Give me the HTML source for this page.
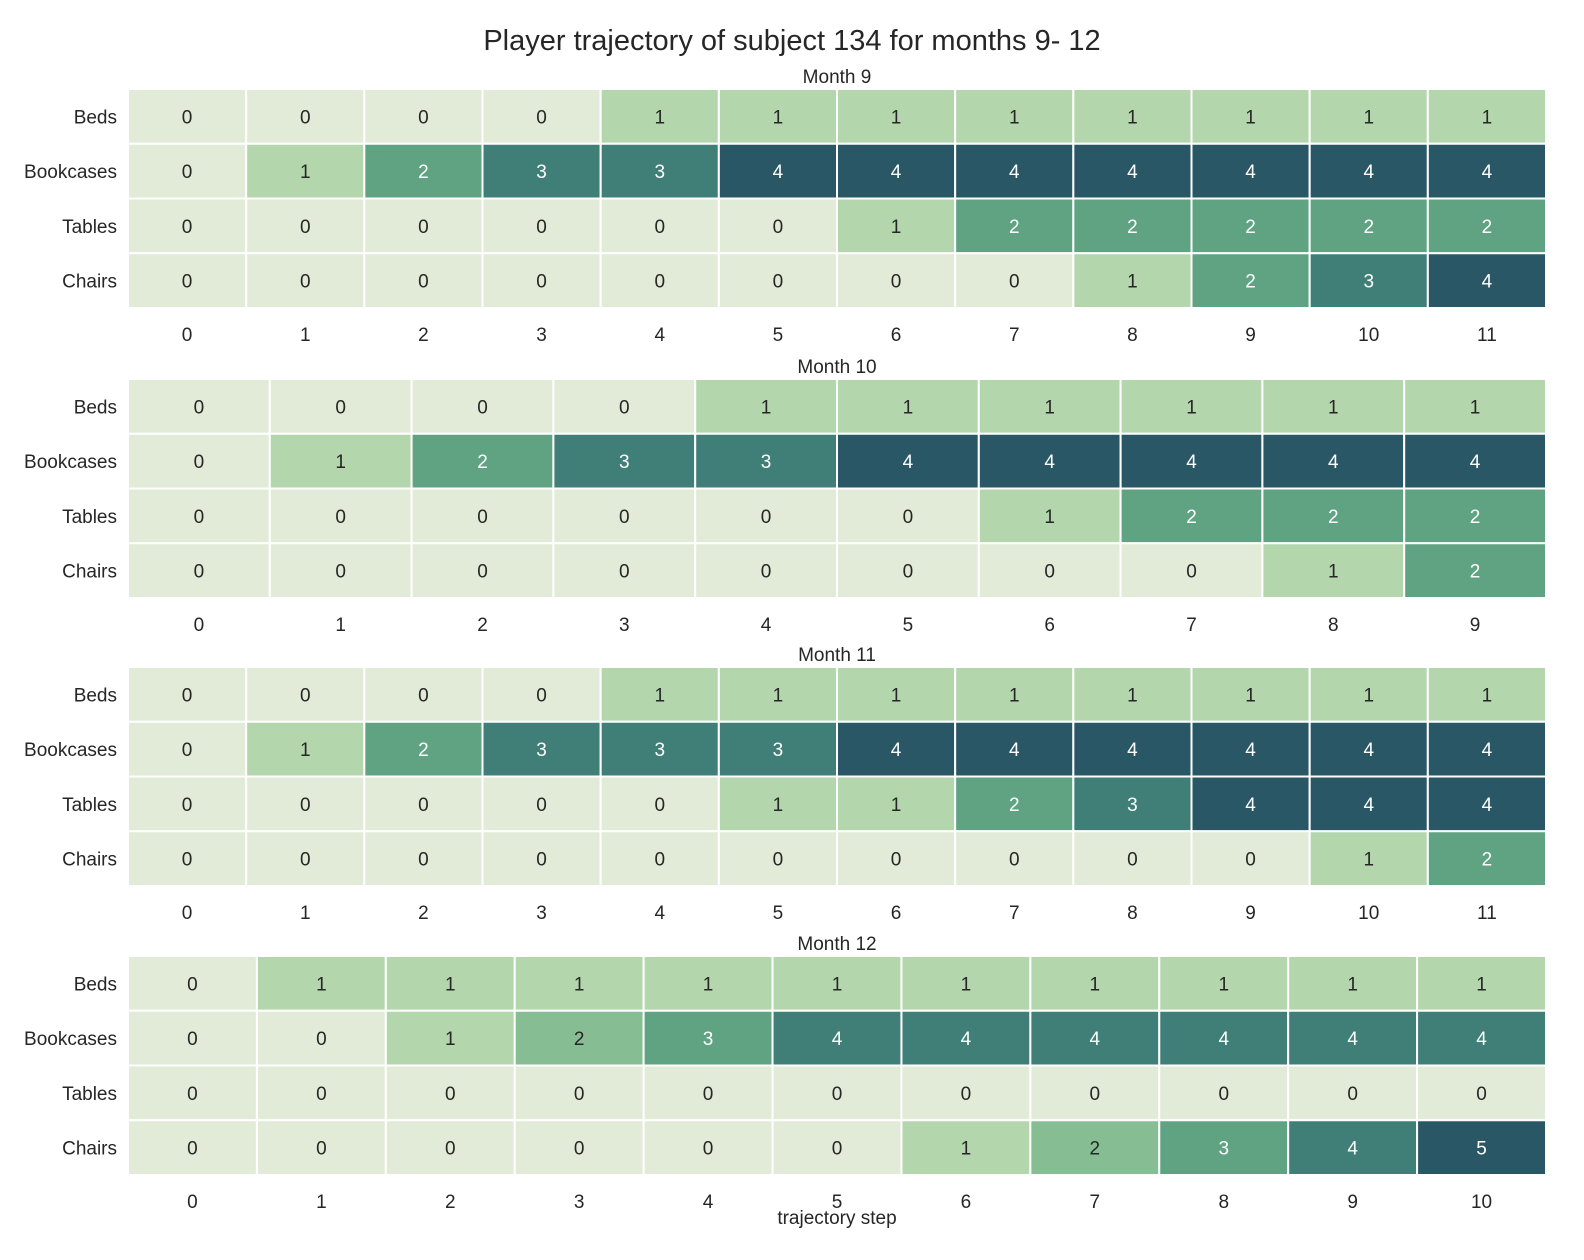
<!DOCTYPE html>
<html><head><meta charset="utf-8"><style>
html,body{margin:0;padding:0;background:#fff;overflow:hidden;width:1584px;height:1260px}
svg{display:block}
svg text{font-family:"Liberation Sans",Arial,sans-serif}
</style></head><body>
<svg id="c" width="1584" height="1260" xmlns="http://www.w3.org/2000/svg">
<text x="792" y="50" text-anchor="middle" font-size="29" fill="#262626">Player trajectory of subject 134 for months 9- 12</text>
<text x="837" y="1224" text-anchor="middle" font-size="19" fill="#262626">trajectory step</text>
</svg>
<script>
const rowLabels=["Beds","Bookcases","Tables","Chairs"];
const monthNames=["Month 9","Month 10","Month 11","Month 12"];
const m9=[[0,0,0,0,1,1,1,1,1,1,1,1],[0,1,2,3,3,4,4,4,4,4,4,4],[0,0,0,0,0,0,1,2,2,2,2,2],[0,0,0,0,0,0,0,0,1,2,3,4]];
const m10=[[0,0,0,0,1,1,1,1,1,1],[0,1,2,3,3,4,4,4,4,4],[0,0,0,0,0,0,1,2,2,2],[0,0,0,0,0,0,0,0,1,2]];
const m11=[[0,0,0,0,1,1,1,1,1,1,1,1],[0,1,2,3,3,3,4,4,4,4,4,4],[0,0,0,0,0,1,1,2,3,4,4,4],[0,0,0,0,0,0,0,0,0,0,1,2]];
const m12=[[0,1,1,1,1,1,1,1,1,1,1],[0,0,1,2,3,4,4,4,4,4,4],[0,0,0,0,0,0,0,0,0,0,0],[0,0,0,0,0,0,1,2,3,4,5]];
const months=[m9,m10,m11,m12];
const pal=["#e1ebd7","#b4d6ad","#86bd92","#5fa383","#407f78","#2a5766"];
const tops=[89,379,667,956];
const L=128,R=1546,H=219;
const svg=document.getElementById('c');
const NS="http://www.w3.org/2000/svg";
function mk(t,a){const e=document.createElementNS(NS,t);for(const k in a)e.setAttribute(k,a[k]);svg.appendChild(e);return e;}
months.forEach((data,p)=>{
  const top=tops[p],n=data[0].length,cw=(R-L)/n,rh=H/4;
  const vmax=Math.max(...data.flat());
  const idx=v=>v===0?0:(vmax===4?(v===1?1:v+1):v);
  const t=mk('text',{x:(L+R)/2,y:top-6,'text-anchor':'middle','font-size':19,fill:'#262626'});
  t.textContent=monthNames[p];
  
  
  data.forEach((row,r)=>{
    const lb=mk('text',{x:L-11,y:top+r*rh+rh/2+7,'text-anchor':'end','font-size':19,fill:'#262626'});
    lb.textContent=rowLabels[r];
    
    
    row.forEach((v,c)=>{
      const i=idx(v);
      const rc=mk('rect',{x:L+c*cw,y:top+r*rh,width:cw,height:rh,fill:pal[i],stroke:'#fff','stroke-width':2});
      
      
      const tx=mk('text',{x:L+c*cw+cw/2,y:top+r*rh+rh/2+7,'text-anchor':'middle','font-size':19,fill:i>=3?'#fff':'#262626'});
      tx.textContent=v;
      
      
    });
  });
  for(let c=0;c<n;c++){
    const xt=mk('text',{x:L+c*cw+cw/2,y:top+H+33,'text-anchor':'middle','font-size':19,fill:'#262626'});
    xt.textContent=c;
    
    
  }
});
</script>
</body></html>
